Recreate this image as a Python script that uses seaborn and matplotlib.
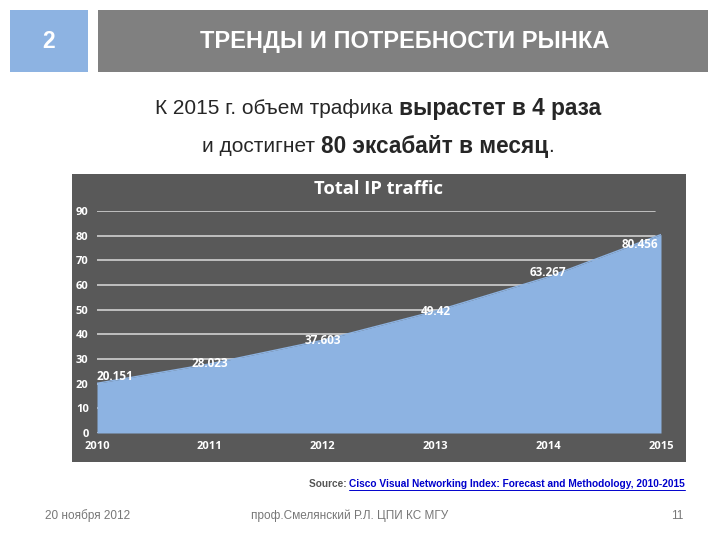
import matplotlib
matplotlib.use("Agg")
import matplotlib.pyplot as plt
import seaborn as sns
import pandas as pd
from matplotlib.patches import Rectangle

years = [2010, 2011, 2012, 2013, 2014, 2015]
traffic = [20.151, 28.023, 37.603, 49.42, 63.267, 80.456]
value_labels = ["20.151", "28.023", "37.603", "49.42", "63.267", "80.456"]
y_ticks = [0, 10, 20, 30, 40, 50, 60, 70, 80, 90]

sns.set_style("white")
plt.rcParams['font.family'] = ['Liberation Sans', 'DejaVu Sans']

df = pd.DataFrame({"year": years, "traffic": traffic})

fig = plt.figure(figsize=(7.2, 5.4), dpi=100)
fig.patch.set_facecolor("white")

W, H = 720, 540
def fx(x): return x / W
def fy(y): return 1 - y / H

# Background layer axes for boxes/panel
bg = fig.add_axes([0, 0, 1, 1], zorder=-5)
bg.set_xlim(0, W)
bg.set_ylim(H, 0)
bg.axis("off")
bg.add_patch(Rectangle((10, 10), 78, 62, facecolor="#8db3e2", edgecolor="none"))
bg.add_patch(Rectangle((98, 10), 610, 62, facecolor="#808080", edgecolor="none"))
bg.add_patch(Rectangle((72, 174), 614, 288, facecolor="#595959", edgecolor="none"))

fig.text(fx(49), fy(42), "2", color="white", fontsize=16.5, fontweight="bold", ha="center", va="center")
fig.text(fx(405), fy(42), "ТРЕНДЫ И ПОТРЕБНОСТИ РЫНКА", color="white", fontsize=17,
         fontweight="bold", ha="center", va="center")

renderer = fig.canvas.get_renderer()

def seq_text(pieces, center_x, y):
    objs = []
    for s, kw in pieces:
        t = fig.text(0, fy(y), s, ha="left", va="center", **kw)
        objs.append(t)
    widths = [t.get_window_extent(renderer).width for t in objs]
    x = center_x - sum(widths) / 2
    for t, w in zip(objs, widths):
        t.set_x(fx(x))
        x += w
    return objs

seq_text([("К 2015 г. объем трафика ", dict(fontsize=15)),
          ("вырастет в 4 раза", dict(fontsize=16.3, fontweight="bold"))], 378, 108)
seq_text([("и достигнет ", dict(fontsize=15)),
          ("80 эксабайт в месяц", dict(fontsize=16.3, fontweight="bold")),
          (".", dict(fontsize=15))], 378, 146)

fig.text(fx(378), fy(189), "Total IP traffic", color="white", fontsize=13.2, fontweight="bold",
         ha="center", va="center", family=["Open Sans", "DejaVu Sans"])

ax = fig.add_axes([fx(97), fy(433), fx(564), 222 / H])
ax.set_facecolor("none")
ax.set_xlim(2010, 2015)
ax.set_ylim(0, 90)
for t in y_ticks:
    ax.axhline(t, xmin=0, xmax=0.99, color="#d0d0d0", lw=1.2, zorder=1)
ax.fill_between(years, traffic, 0, color="#8db3e2", lw=0, zorder=2)
sns.lineplot(data=df, x="year", y="traffic", ax=ax, color="#8db3e2", lw=1, zorder=3)
for sp in ax.spines.values():
    sp.set_visible(False)
ax.set_xlabel("")
ax.set_ylabel("")
ax.set_xticks(years)
ax.set_xticklabels([str(y) for y in years])
ax.set_yticks(y_ticks)
ax.tick_params(length=0, colors="white", labelsize=8)
for lab in ax.get_xticklabels() + ax.get_yticklabels():
    lab.set_fontweight("bold")
    lab.set_family(["Open Sans", "DejaVu Sans"])
ax.tick_params(axis="x", pad=6)
ax.tick_params(axis="y", pad=6)

offsets = [(0, 5, "left"), (0, 0, "center"), (0, 0, "center"), (0, 0, "center"), (0, 3, "center"), (-2, -7, "right")]
for x, y, lab, (dx, dy, ha) in zip(years, traffic, value_labels, offsets):
    ax.annotate(lab, (x, y), xytext=(dx, dy), textcoords="offset points", ha=ha, va="center",
                color="white", fontsize=8.5, fontweight="bold", zorder=5,
                family=["Open Sans", "DejaVu Sans"])

# Source line
src2 = fig.text(fx(685), fy(484), "Cisco Visual Networking Index: Forecast and Methodology, 2010-2015",
                fontsize=7.3, ha="right", va="center", color="#0000cc", fontweight="bold")
bb = src2.get_window_extent(renderer)
fig.text(bb.x0 / W, fy(484), "Source: ", fontsize=7.3, ha="right", va="center", color="#555555",
         fontweight="bold")
bg.plot([bb.x0, bb.x1], [490, 490], color="#0000cc", lw=0.7)

# Footer
fig.text(fx(45), fy(516), "20 ноября 2012", fontsize=8.5, color="#777777", ha="left", va="center")
fig.text(fx(350), fy(516), "проф.Смелянский Р.Л. ЦПИ КС МГУ", fontsize=8.5, color="#777777",
         ha="center", va="center")
fig.text(fx(683), fy(516), "11", fontsize=8.5, color="#777777", ha="right", va="center")

fig.savefig("out.png", dpi=100, facecolor="white")
